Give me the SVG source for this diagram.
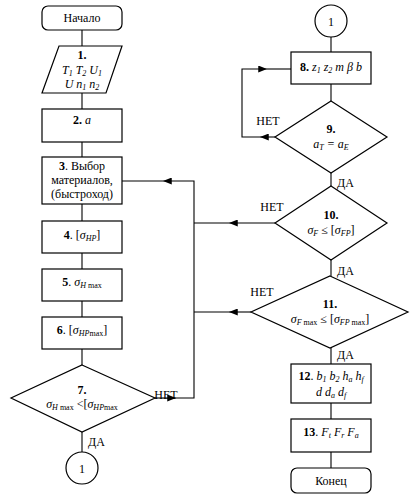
<svg xmlns="http://www.w3.org/2000/svg" width="410" height="499" viewBox="0 0 410 499">
<style>
.s{fill:#fff;stroke:#000;stroke-width:1.2}
.c{fill:none;stroke:#000;stroke-width:1.1}
text{font-family:"Liberation Serif","Times New Roman",serif;font-size:12px;fill:#000;text-anchor:middle}
.b{font-weight:bold}
.i{font-style:italic}
.sb{font-size:8px;font-style:italic}
.l{text-anchor:start}
</style>
<defs>
<marker id="a" viewBox="0 0 10 8" refX="10" refY="4" markerWidth="9" markerHeight="7" markerUnits="userSpaceOnUse" orient="auto">
<path d="M0,0 L10,4 L0,8 Z" fill="#000"/>
</marker>
</defs>
<rect width="410" height="499" fill="#fff"/>
<g id="connectors">
<path class="c" d="M82,30V46M82,93V109M82,142V157M82,204V221M82,253V269M82,301V317M82,349V365M82,432V452"/>
<path class="c" d="M331,37V52M331,84V101M331,173V186M331,260V276M331,348V364M331,403V419M331,452V468"/>
<path class="c" d="M275,137H260" marker-end="url(#a)"/>
<path class="c" d="M260,137H242V69H267" marker-end="url(#a)"/>
<path class="c" d="M267,69H291"/>
<path class="c" d="M155,398H176" marker-end="url(#a)"/>
<path class="c" d="M176,398H194V181H163" marker-end="url(#a)"/>
<path class="c" d="M163,181H122"/>
<path class="c" d="M275,223H229" marker-end="url(#a)"/>
<path class="c" d="M229,223H194"/>
<path class="c" d="M251,312H229" marker-end="url(#a)"/>
<path class="c" d="M229,312H194"/>
<text x="166" y="399">НЕТ</text>
<text x="88" y="446" class="l">ДА</text>
<text x="268" y="125">НЕТ</text>
<text x="337" y="187" class="l">ДА</text>
<text x="272" y="211">НЕТ</text>
<text x="337" y="275" class="l">ДА</text>
<text x="262" y="296">НЕТ</text>
<text x="337" y="359" class="l">ДА</text>
</g>
<g id="start"><rect class="s" x="42" y="6" width="80" height="24" rx="6"/><text x="82" y="22">Начало</text></g>
<g id="n1"><polygon class="s" points="59,46 122,46 106,93 42,93"/>
<text x="82" y="59" class="b">1.</text>
<text x="82" y="74" class="i">T<tspan class="sb" dy="2">1</tspan><tspan dy="-2"> T</tspan><tspan class="sb" dy="2">2</tspan><tspan dy="-2"> U</tspan><tspan class="sb" dy="2">1</tspan></text>
<text x="82" y="88" class="i">U  n<tspan class="sb" dy="2">1</tspan><tspan dy="-2"> n</tspan><tspan class="sb" dy="2">2</tspan></text></g>
<g id="n2"><rect class="s" x="42" y="109" width="80" height="33"/><text x="82" y="124"><tspan class="b">2.</tspan> <tspan class="i">a</tspan></text></g>
<g id="n3"><rect class="s" x="42" y="157" width="80" height="47"/>
<text x="82" y="170"><tspan class="b">3</tspan>. Выбор</text><text x="82" y="184">материалов,</text><text x="82" y="198">(быстроход)</text></g>
<g id="n4"><rect class="s" x="42" y="221" width="80" height="32"/><text x="82" y="239"><tspan class="b">4</tspan>. [<tspan class="i">σ</tspan><tspan class="sb" dy="2">HP</tspan><tspan dy="-2">]</tspan></text></g>
<g id="n5"><rect class="s" x="42" y="269" width="80" height="32"/><text x="82" y="286"><tspan class="b">5</tspan>. <tspan class="i">σ</tspan><tspan class="sb" dy="2">H </tspan><tspan font-size="8" dy="0">max</tspan></text></g>
<g id="n6"><rect class="s" x="42" y="317" width="80" height="32"/><text x="82" y="334"><tspan class="b">6</tspan>. [<tspan class="i">σ</tspan><tspan class="sb" dy="2">HP</tspan><tspan font-size="8">max</tspan><tspan dy="-2">]</tspan></text></g>
<g id="n7"><polygon class="s" points="82,365 155,398 82,432 11,398"/>
<text x="82" y="394" class="b">7.</text>
<text x="82" y="408"><tspan class="i">σ</tspan><tspan class="sb" dy="2">H </tspan><tspan font-size="8">max</tspan><tspan dy="-2"> &lt;[</tspan><tspan class="i">σ</tspan><tspan class="sb" dy="2">HP</tspan><tspan font-size="8">max</tspan></text></g>
<g id="c1a"><circle class="s" cx="82" cy="468" r="16"/><text x="82" y="473">1</text></g>
<g id="c1b"><circle class="s" cx="331" cy="21" r="16"/><text x="331" y="26">1</text></g>
<g id="n8"><rect class="s" x="291" y="52" width="80" height="32"/><text x="331" y="71" class="i"><tspan class="b" font-style="normal">8.</tspan> z<tspan class="sb" dy="2">1</tspan><tspan dy="-2"> z</tspan><tspan class="sb" dy="2">2</tspan><tspan dy="-2"> m  β  b</tspan></text></g>
<g id="n9"><polygon class="s" points="331,101 387,137 331,173 275,137"/>
<text x="331" y="133" class="b">9.</text>
<text x="331" y="148" class="i">a<tspan class="sb" dy="2">T</tspan><tspan dy="-2"> = a</tspan><tspan class="sb" dy="2">E</tspan></text></g>
<g id="n10"><polygon class="s" points="331,186 387,223 331,260 275,223"/>
<text x="331" y="219" class="b">10.</text>
<text x="331" y="234"><tspan class="i">σ</tspan><tspan class="sb" dy="2">F</tspan><tspan dy="-2"> ≤ [</tspan><tspan class="i">σ</tspan><tspan class="sb" dy="2">FP</tspan><tspan dy="-2">]</tspan></text></g>
<g id="n11"><polygon class="s" points="330,276 408,312 330,348 251,312"/>
<text x="330" y="308" class="b">11.</text>
<text x="330" y="323"><tspan class="i">σ</tspan><tspan class="sb" dy="2">F </tspan><tspan font-size="8">max</tspan><tspan dy="-2"> ≤ [</tspan><tspan class="i">σ</tspan><tspan class="sb" dy="2">FP </tspan><tspan font-size="8">max</tspan><tspan dy="-2">]</tspan></text></g>
<g id="n12"><rect class="s" x="291" y="364" width="80" height="39"/>
<text x="331" y="380" class="i"><tspan class="b" font-style="normal">12</tspan><tspan font-style="normal">.</tspan> b<tspan class="sb" dy="2">1</tspan><tspan dy="-2"> b</tspan><tspan class="sb" dy="2">2</tspan><tspan dy="-2"> h</tspan><tspan class="sb" dy="2">a</tspan><tspan dy="-2"> h</tspan><tspan class="sb" dy="2">f</tspan></text>
<text x="331" y="396" class="i">d  d<tspan class="sb" dy="2">a</tspan><tspan dy="-2"> d</tspan><tspan class="sb" dy="2">f</tspan></text></g>
<g id="n13"><rect class="s" x="291" y="419" width="80" height="33"/>
<text x="331" y="436" class="i"><tspan class="b" font-style="normal">13</tspan><tspan font-style="normal">.</tspan> F<tspan class="sb" dy="2">t</tspan><tspan dy="-2"> F</tspan><tspan class="sb" dy="2">r</tspan><tspan dy="-2"> F</tspan><tspan class="sb" dy="2">a</tspan></text></g>
<g id="end"><rect class="s" x="291" y="468" width="80" height="25" rx="6"/><text x="331" y="485">Конец</text></g>
</svg>
